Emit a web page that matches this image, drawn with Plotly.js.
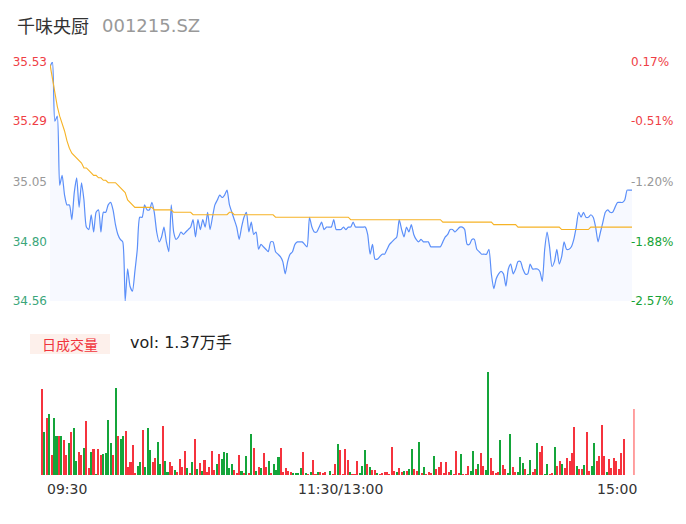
<!DOCTYPE html>
<html><head><meta charset="utf-8">
<script src="https://cdn.plot.ly/plotly-3.0.1.min.js"></script>
<style>html,body{margin:0;padding:0;background:#fff}#chart{width:686px;height:524px}</style>
</head><body><div id="chart"></div>
<script>
const stockName = "千味央厨";
const stockCode = "001215.SZ";
const timeLabels = ["09:30", "11:30/13:00", "15:00"];
const volumeLabel = "日成交量";
const volumeText = "vol: 1.37万手";

const price = [
35.51,35.53,35.29,35.31,35.03,35.07,34.99,34.95,34.95,34.89,
35.00,35.06,34.94,35.04,34.97,34.86,34.85,34.91,34.84,34.92,
34.93,34.84,34.92,34.92,34.95,34.96,34.93,34.87,34.83,34.81,
34.80,34.56,34.69,34.62,34.60,34.68,34.77,34.90,34.90,34.95,
34.93,34.93,34.96,34.92,34.84,34.80,34.82,34.86,34.80,34.76,
34.95,34.84,34.81,34.82,34.84,34.83,34.84,34.85,34.86,34.89,
34.82,34.89,34.85,34.89,34.86,34.92,34.85,34.90,34.95,34.97,
34.99,34.98,34.99,35.01,34.95,34.92,34.89,34.86,34.81,34.86,
34.90,34.92,34.84,34.88,34.83,34.84,34.77,34.79,34.78,34.77,
34.76,34.80,34.80,34.76,34.75,34.74,34.72,34.67,34.72,34.75,
34.76,34.79,34.80,34.80,34.80,34.79,34.78,34.90,34.86,34.84,
34.84,34.86,34.88,34.85,34.86,34.86,34.86,34.89,34.85,34.85,
34.85,34.86,34.85,34.86,34.86,34.88,34.86,34.86,34.86,34.86,
34.86,34.83,34.75,34.79,34.73,34.73,34.74,34.75,34.75,34.77,
34.79,34.80,34.81,34.82,34.89,34.85,34.82,34.86,34.84,34.87,
34.83,34.81,34.80,34.81,34.80,34.80,34.80,34.78,34.78,34.78,
34.78,34.78,34.80,34.82,34.83,34.85,34.85,34.84,34.85,34.86,
34.86,34.85,34.79,34.79,34.81,34.81,34.77,34.76,34.75,34.75,
34.75,34.77,34.67,34.61,34.65,34.67,34.68,34.67,34.62,34.69,
34.71,34.67,34.69,34.72,34.72,34.69,34.67,34.67,34.71,34.69,
34.69,34.69,34.68,34.64,34.77,34.84,34.78,34.70,34.72,34.77,
34.71,34.74,34.80,34.77,34.77,34.78,34.81,34.86,34.92,34.90,
34.92,34.90,34.90,34.91,34.90,34.86,34.80,34.84,34.88,34.92,
34.93,34.92,34.92,34.94,34.96,34.96,34.96,34.97,35.01,35.01,
35.01];

const avgPrice = [
35.52,35.46,35.41,35.35,35.31,35.28,35.25,35.21,35.18,35.16,
35.15,35.14,35.13,35.12,35.10,35.10,35.09,35.08,35.07,35.07,
35.06,35.06,35.05,35.05,35.04,35.04,35.04,35.04,35.03,35.02,
35.01,35.00,34.97,34.96,34.95,34.94,34.94,34.94,34.94,34.94,
34.94,34.94,34.94,34.93,34.93,34.93,34.93,34.93,34.93,34.93,
34.93,34.92,34.92,34.92,34.92,34.92,34.92,34.92,34.92,34.91,
34.91,34.91,34.91,34.91,34.91,34.91,34.91,34.91,34.91,34.91,
34.91,34.91,34.91,34.91,34.92,34.92,34.91,34.91,34.91,34.91,
34.91,34.91,34.91,34.91,34.91,34.91,34.91,34.91,34.91,34.91,
34.91,34.91,34.91,34.90,34.90,34.90,34.90,34.90,34.90,34.90,
34.90,34.90,34.90,34.90,34.90,34.90,34.90,34.90,34.90,34.90,
34.90,34.90,34.90,34.90,34.90,34.90,34.90,34.90,34.90,34.90,
34.90,34.90,34.90,34.90,34.89,34.89,34.89,34.89,34.89,34.89,
34.89,34.89,34.89,34.89,34.89,34.89,34.89,34.89,34.89,34.89,
34.89,34.89,34.89,34.89,34.89,34.89,34.89,34.89,34.89,34.89,
34.89,34.89,34.89,34.89,34.89,34.89,34.89,34.89,34.89,34.89,
34.89,34.89,34.88,34.88,34.88,34.88,34.88,34.88,34.88,34.88,
34.88,34.88,34.88,34.88,34.88,34.88,34.88,34.88,34.88,34.88,
34.88,34.88,34.88,34.87,34.87,34.87,34.87,34.87,34.87,34.87,
34.87,34.87,34.87,34.86,34.86,34.86,34.86,34.86,34.86,34.86,
34.86,34.86,34.86,34.86,34.86,34.86,34.86,34.86,34.86,34.86,
34.86,34.85,34.85,34.85,34.85,34.85,34.85,34.85,34.85,34.85,
34.85,34.85,34.85,34.86,34.86,34.86,34.86,34.86,34.86,34.86,
34.86,34.86,34.86,34.86,34.86,34.86,34.86,34.86,34.86,34.86,
34.86];

const volume = [
344,172,228,244,80,228,156,156,156,140,
80,128,172,188,56,92,80,108,216,28,
92,104,4,104,80,84,88,220,128,80,
348,156,144,156,176,32,52,120,8,36,
52,180,32,188,100,52,68,132,44,196,
56,12,52,36,20,12,64,32,96,28,
8,52,144,24,48,16,60,12,32,96,
20,44,84,64,92,88,28,44,20,8,
80,16,8,76,8,164,108,16,32,28,
88,32,56,8,44,20,72,108,12,28,
16,12,8,8,8,28,92,8,4,12,
60,4,12,12,8,12,2,16,4,44,
124,100,4,104,60,12,4,4,56,8,
36,100,44,32,20,20,8,4,8,12,
12,4,112,16,12,28,12,16,16,24,
104,24,16,132,8,32,4,12,8,76,
24,32,52,8,52,12,20,4,96,8,
84,4,4,36,16,96,24,44,88,36,
20,412,68,16,8,12,140,40,24,8,
164,32,12,12,72,48,24,4,60,12,
24,128,92,116,4,44,4,8,112,36,
56,44,28,68,56,88,192,36,24,24,
40,172,16,36,128,56,76,200,76,12,
64,28,68,56,24,88,144,0,0,0,
264];

// r = up minute, g = down minute, a = closing auction
const volDir = (
"rgrgrggrgr" + "rgrggrrgrr" + "grgrrggggr" + "grggrrrrrg" +
"grgggrrggr" + "ggrrgrrrrg" + "rgrgrgrrrr" + "rgrgggggrr" +
"rgrgrgrgrg" + "rrgrgggrrr" + "rrggggrgrg" + "rrgrrrrgrr" +
"grrrrgrrrg" + "ggrgrrgrrr" + "rrrrgrrgrg" + "grrgrgrrrg" +
"rrrrrrgrrr" + "grrrggrgrr" + "ggrrrrgrrg" + "grrgggrggr" +
"rgrrggrrgr" + "rgrrrrrgrr" + "grrggrrrrg" + "rrrrrrrrrr" + "a").split("");

const priceTickVals = [35.53, 35.29, 35.045, 34.80, 34.56];
const priceTickText = ["35.53", "35.29", "35.05", "34.80", "34.56"];
const pctTickText = ["0.17%", "-0.51%", "-1.20%", "-1.88%", "-2.57%"];

// ---- styling ----
const RED = "#ef3e45", GRAY = "#999999", TEAL = "#3aa67a", GREEN = "#17a336";
const leftColors = [RED, RED, GRAY, TEAL, TEAL];
const rightColors = [RED, RED, GRAY, GREEN, GREEN];
const barColorMap = {r: "#f5333d", g: "#14a53a", a: "#ff9c9c"};
const FONT = "DejaVu Sans, Noto Sans CJK SC, sans-serif";

const W = 686, H = 524;
const px = v => v / W;
const py = v => 1 - v / H;

const idx = price.map((_, i) => i);

const traces = [
  {
    x: idx, y: price, type: "scatter", mode: "lines",
    line: {color: "#5b8ff9", width: 1.2, shape: "spline", smoothing: 0.6},
    fill: "tozeroy", fillcolor: "rgba(91,143,249,0.05)",
    xaxis: "x", yaxis: "y", hoverinfo: "skip"
  },
  {
    x: idx, y: avgPrice, type: "scatter", mode: "lines",
    line: {color: "#f6b326", width: 1.1},
    xaxis: "x", yaxis: "y2", hoverinfo: "skip"
  },
  {
    x: idx, y: volume, type: "bar",
    marker: {color: volDir.map(d => barColorMap[d])},
    width: 0.82,
    xaxis: "x2", yaxis: "y3", hoverinfo: "skip"
  }
];

const layout = {
  width: W, height: H, autosize: false,
  margin: {l: 0, r: 0, t: 0, b: 0},
  paper_bgcolor: "#fff", plot_bgcolor: "rgba(0,0,0,0)",
  showlegend: false,
  font: {family: FONT, size: 12, color: "#333"},
  xaxis: {
    domain: [px(50), px(632)], range: [0, 240], anchor: "y",
    showgrid: false, zeroline: false, showline: false, showticklabels: false, ticks: ""
  },
  yaxis: {
    domain: [py(301), py(62)], range: [34.56, 35.53], anchor: "x",
    showgrid: false, zeroline: false, showline: false, ticks: "",
    tickvals: priceTickVals,
    ticktext: priceTickText.map((t, i) => `<span style="color:${leftColors[i]}">${t}</span>`),
    tickfont: {size: 12, family: FONT}, ticklabelstandoff: 2
  },
  yaxis2: {
    overlaying: "y", side: "right", anchor: "x", range: [34.56, 35.53],
    showgrid: false, zeroline: false, showline: false, ticks: "",
    tickvals: priceTickVals,
    ticktext: pctTickText.map((t, i) => `<span style="color:${rightColors[i]}">${t}</span>`),
    tickfont: {size: 12, family: FONT}, ticklabelstandoff: -2
  },
  xaxis2: {
    domain: [px(40.47), px(634.9)], range: [-0.5, 240.5], anchor: "y3",
    showgrid: false, zeroline: false, showline: false, showticklabels: false, ticks: ""
  },
  yaxis3: {
    domain: [py(475), py(372)], range: [0, 412], anchor: "x2",
    showgrid: false, zeroline: false, showline: false, showticklabels: false, ticks: ""
  },
  bargap: 0,
  shapes: [
    {type: "rect", xref: "paper", yref: "paper", x0: px(30), x1: px(110), y0: py(354), y1: py(334),
     fillcolor: "#fdf0eb", line: {width: 0}, layer: "below"}
  ],
  annotations: [
    {text: stockName, xref: "paper", yref: "paper", x: px(15), y: py(25), xanchor: "left", yanchor: "middle",
     showarrow: false, font: {family: "Noto Sans CJK SC, sans-serif", size: 18, color: "#333"}},
    {text: stockCode, xref: "paper", yref: "paper", x: px(100), y: py(25), xanchor: "left", yanchor: "middle",
     showarrow: false, font: {family: FONT, size: 18, color: "#999"}},
    {text: volumeLabel, xref: "paper", yref: "paper", x: px(70), y: py(344), xanchor: "center", yanchor: "middle",
     showarrow: false, font: {family: "Noto Sans CJK SC, sans-serif", size: 14, color: "#f0343c"}},
    {text: volumeText, xref: "paper", yref: "paper", x: px(128), y: py(342), xanchor: "left", yanchor: "middle",
     showarrow: false, font: {family: FONT, size: 16, color: "#222"}},
    {text: timeLabels[0], xref: "paper", yref: "paper", x: px(67), y: py(489), xanchor: "center", yanchor: "middle",
     showarrow: false, font: {family: FONT, size: 14, color: "#333"}},
    {text: timeLabels[1], xref: "paper", yref: "paper", x: px(340), y: py(489), xanchor: "center", yanchor: "middle",
     showarrow: false, font: {family: FONT, size: 14, color: "#333"}},
    {text: timeLabels[2], xref: "paper", yref: "paper", x: px(617), y: py(489), xanchor: "center", yanchor: "middle",
     showarrow: false, font: {family: FONT, size: 14, color: "#333"}}
  ]
};

Plotly.newPlot("chart", traces, layout, {staticPlot: true, displayModeBar: false});
</script>
</body></html>
